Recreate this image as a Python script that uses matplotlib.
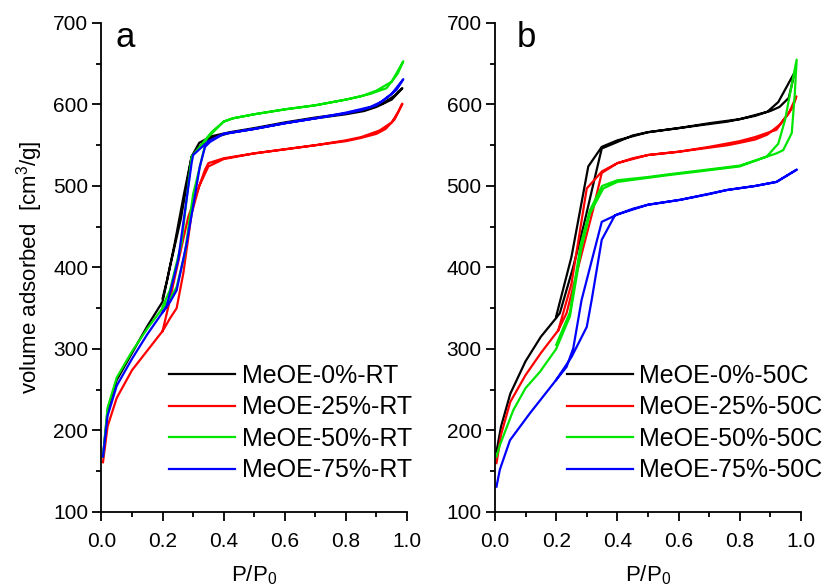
import matplotlib
matplotlib.use('Agg')
import matplotlib.pyplot as plt
from matplotlib.ticker import MultipleLocator

plt.rcParams['font.family'] = ['Liberation Sans', 'DejaVu Sans']
plt.rcParams['mathtext.fontset'] = 'custom'
plt.rcParams['mathtext.rm'] = 'Liberation Sans'
plt.rcParams['mathtext.it'] = 'Liberation Sans:italic'

colors = ['black', '#ff0000', '#00e600', '#0000ff']

# ---- panel a: room temperature (adsorption then desorption branch)
labels_a = ['MeOE-0%-RT', 'MeOE-25%-RT', 'MeOE-50%-RT', 'MeOE-75%-RT']

p_a0 = [0.005, 0.02, 0.05, 0.1, 0.15, 0.2, 0.225, 0.26, 0.295, 0.33, 0.37, 0.42, 0.5, 0.6, 0.7, 0.8, 0.86, 0.9, 0.95, 0.985,
        0.96, 0.92, 0.88, 0.8, 0.7, 0.6, 0.5, 0.42, 0.36, 0.32, 0.295, 0.27, 0.24, 0.215, 0.2]
v_a0 = [168, 225, 262, 295, 328, 358, 402, 460, 536, 552, 560, 565, 570, 577, 583, 588, 592, 597, 606, 620,
        611, 601, 596, 589, 584, 578, 571, 566, 561, 553, 536, 490, 430, 385, 362]

p_a25 = [0.005, 0.02, 0.05, 0.1, 0.15, 0.2, 0.225, 0.246, 0.268, 0.295, 0.32, 0.35, 0.4, 0.5, 0.6, 0.7, 0.8, 0.85, 0.9, 0.93, 0.96, 0.985,
         0.97, 0.95, 0.91, 0.85, 0.8, 0.7, 0.6, 0.5, 0.4, 0.35, 0.339, 0.284, 0.25, 0.219, 0.2]
v_a25 = [161, 205, 240, 274, 298, 322, 338, 350, 393, 466, 500, 524, 533, 540, 545, 550, 555, 559, 564, 570, 582, 601,
         590, 578, 568, 560, 556, 550, 545, 540, 534, 528, 520, 462, 405, 352, 322]

p_a50 = [0.005, 0.02, 0.05, 0.1, 0.15, 0.2, 0.225, 0.246, 0.273, 0.3, 0.31, 0.344, 0.4, 0.43, 0.5, 0.6, 0.7, 0.8, 0.85, 0.9, 0.95, 0.988,
         0.97, 0.933, 0.88, 0.8, 0.7, 0.6, 0.5, 0.43, 0.4, 0.36, 0.33, 0.295, 0.262, 0.224, 0.2]
v_a50 = [168, 228, 265, 297, 325, 350, 362, 376, 417, 490, 505, 558, 579, 583, 588, 594, 599, 606, 610, 617, 628, 653,
         638, 620, 613, 606, 599, 594, 588, 583, 579, 566, 552, 536, 430, 372, 352]

p_a75 = [0.005, 0.02, 0.05, 0.1, 0.15, 0.2, 0.225, 0.246, 0.279, 0.3, 0.322, 0.339, 0.355, 0.4, 0.5, 0.6, 0.7, 0.8, 0.85, 0.9, 0.95, 0.988,
         0.966, 0.92, 0.88, 0.8, 0.7, 0.6, 0.5, 0.4, 0.35, 0.3, 0.295, 0.251, 0.213, 0.2]
v_a75 = [168, 218, 255, 288, 318, 345, 358, 372, 430, 475, 524, 548, 554, 564, 570, 577, 583, 589, 593, 599, 613, 631,
         618, 604, 597, 590, 583, 577, 570, 564, 555, 538, 528, 409, 352, 345]

# ---- panel b: 50 C
labels_b = ['MeOE-0%-50C', 'MeOE-25%-50C', 'MeOE-50%-50C', 'MeOE-75%-50C']

p_b0 = [0.005, 0.02, 0.05, 0.1, 0.15, 0.2, 0.212, 0.256, 0.289, 0.32, 0.349, 0.4, 0.45, 0.5, 0.6, 0.7, 0.76, 0.8, 0.85, 0.89, 0.926, 0.98,
        0.96, 0.93, 0.9, 0.85, 0.8, 0.7, 0.6, 0.5, 0.4, 0.349, 0.305, 0.25, 0.2]
v_b0 = [174, 205, 245, 285, 315, 338, 344, 401, 450, 500, 546, 554, 562, 566, 571, 576, 579, 582, 586, 591, 603, 640,
        608, 597, 592, 587, 582, 577, 571, 566, 556, 548, 524, 413, 340]

p_b25 = [0.005, 0.02, 0.05, 0.1, 0.15, 0.207, 0.234, 0.278, 0.32, 0.349, 0.4, 0.45, 0.5, 0.6, 0.7, 0.76, 0.8, 0.85, 0.89, 0.93, 0.96, 0.985,
         0.974, 0.92, 0.85, 0.8, 0.7, 0.6, 0.5, 0.4, 0.35, 0.3, 0.25, 0.207]
v_b25 = [160, 195, 235, 268, 295, 323, 344, 409, 470, 516, 528, 534, 538, 542, 547, 550, 553, 557, 563, 575, 589, 610,
         597, 569, 560, 555, 548, 542, 538, 528, 518, 497, 380, 323]

p_b50 = [0.005, 0.016, 0.06, 0.1, 0.147, 0.2, 0.245, 0.283, 0.31, 0.354, 0.4, 0.5, 0.56, 0.67, 0.8, 0.888, 0.92, 0.942, 0.97, 0.98, 0.986,
         0.975, 0.948, 0.926, 0.888, 0.8, 0.67, 0.56, 0.5, 0.4, 0.35, 0.31, 0.28, 0.245, 0.2]
v_b50 = [168, 182, 225, 252, 272, 300, 340, 425, 466, 497, 505, 510, 513, 518, 524, 536, 540, 544, 565, 614, 655,
         634, 581, 552, 536, 525, 519, 514, 511, 507, 500, 470, 428, 345, 305]

p_b75 = [0.005, 0.016, 0.049, 0.114, 0.2, 0.25, 0.3, 0.316, 0.349, 0.392, 0.45, 0.5, 0.605, 0.7, 0.757, 0.85, 0.92, 0.986,
         0.92, 0.85, 0.757, 0.605, 0.5, 0.4, 0.349, 0.283, 0.256, 0.234, 0.2]
v_b75 = [131, 152, 188, 221, 262, 290, 327, 360, 434, 464, 472, 477, 483, 490, 495, 500, 505, 520,
         505, 500, 495, 483, 477, 465, 456, 360, 301, 278, 262]

series_a = [(p_a0, v_a0), (p_a25, v_a25), (p_a50, v_a50), (p_a75, v_a75)]
series_b = [(p_b0, v_b0), (p_b25, v_b25), (p_b50, v_b50), (p_b75, v_b75)]

fig = plt.figure(figsize=(8.27, 5.88), dpi=100)
ax1 = fig.add_axes([0.1227, 0.1293, 0.3694, 0.8316])
ax2 = fig.add_axes([0.5985, 0.1293, 0.3700, 0.8316])


def style_axis(ax, letter, lx):
    ax.set_xlim(0, 1.0)
    ax.set_ylim(100, 700)
    ax.xaxis.set_major_locator(MultipleLocator(0.2))
    ax.xaxis.set_minor_locator(MultipleLocator(0.1))
    ax.yaxis.set_major_locator(MultipleLocator(100))
    ax.yaxis.set_minor_locator(MultipleLocator(50))
    ax.spines['top'].set_visible(False)
    ax.spines['right'].set_visible(False)
    for s in ['left', 'bottom']:
        ax.spines[s].set_linewidth(1.3)
    ax.tick_params(which='major', direction='out', length=6.5, width=1.3, labelsize=15, pad=3)
    ax.tick_params(axis='x', which='major', pad=8)
    ax.tick_params(which='minor', direction='out', length=3.5, width=1.3)
    ax.set_xlabel(r'P/P$_\mathregular{0}$', fontsize=16, labelpad=9)
    ax.text(lx, 670, letter, fontsize=25, va='baseline', ha='left', transform=ax.get_yaxis_transform())


for ax, series, labels in [(ax1, series_a, labels_a), (ax2, series_b, labels_b)]:
    for (p, v), c, lab in zip(series, colors, labels):
        ax.plot(p, v, color=c, lw=1.6, label=lab)

style_axis(ax1, 'a', 0.045)
style_axis(ax2, 'b', 0.07)
ax1.set_ylabel('volume adsorbed  [cm$^\\mathregular{3}$/g]', fontsize=16, labelpad=6)

for ax, x0 in [(ax1, 0.221), (ax2, 0.234)]:
    ax.legend(loc='upper left', bbox_to_anchor=(x0, 0.303), frameon=False, fontsize=18,
              handlelength=2.64, handletextpad=0.27, labelspacing=0.3, borderpad=0, borderaxespad=0)

fig.savefig('out.png', dpi=100)
